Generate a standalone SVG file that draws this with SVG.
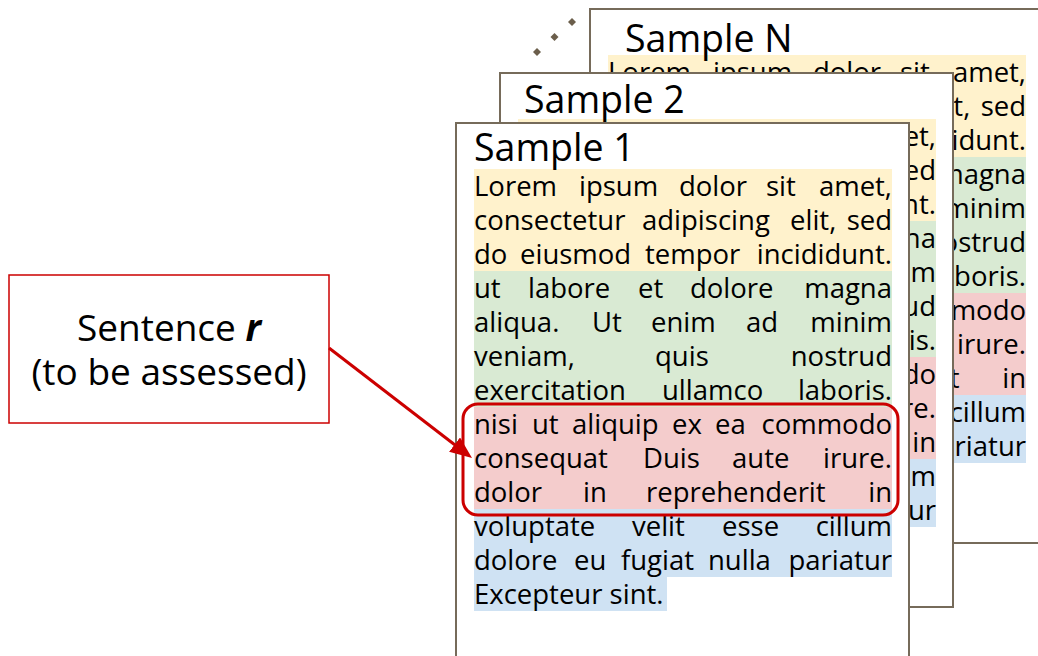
<svg xmlns="http://www.w3.org/2000/svg" xmlns:xlink="http://www.w3.org/1999/xlink" width="1038" height="656" viewBox="0 0 1038 656">
<style>
.frame{fill:#ffffff;stroke:#766b5a;stroke-width:2}
.title{font-family:"Open Sans","Noto Sans",sans-serif;font-size:37.5px;fill:#000}
.t{font-family:"Open Sans","Noto Sans",sans-serif;font-size:27.5px;fill:#000}
.e{text-anchor:end}
.hy{fill:#fff2cc}.hg{fill:#d9ead3}.hr{fill:#f4cccc}.hb{fill:#cfe2f3}
.lbl{font-family:"Open Sans","Noto Sans",sans-serif;font-size:37px;fill:#000;text-anchor:middle}
.red{stroke:#cc0000;fill:none}
.dot{fill:#6b5e4b}
</style>
<defs>
<marker id="ah" markerUnits="userSpaceOnUse" markerWidth="24" markerHeight="20" refX="10" refY="9" orient="auto">
<path d="M0,0 L22,9 L0,18 Z" fill="#cc0000"/>
</marker>
<g id="doc">
<rect class="hy" x="474" y="169" width="418" height="102"/>
<rect class="hg" x="474" y="271" width="418" height="136"/>
<rect class="hr" x="474" y="407" width="418" height="102"/>
<rect class="hb" x="474" y="509" width="418" height="68"/>
<rect class="hb" x="474" y="577" width="193" height="34"/>
<g class="t">
<text y="196"><tspan x="474">Lorem</tspan><tspan x="579">ipsum</tspan><tspan x="679">dolor</tspan><tspan x="766">sit</tspan></text>
<text class="e" x="892" y="196">amet,</text>
<text y="230"><tspan x="474">consectetur</tspan><tspan x="642">adipiscing</tspan><tspan x="790">elit,</tspan></text>
<text class="e" x="892" y="230">sed</text>
<text y="264"><tspan x="474">do</tspan><tspan x="520">eiusmod</tspan><tspan x="645">tempor</tspan></text>
<text class="e" x="892" y="264">incididunt.</text>
<text y="298"><tspan x="474">ut</tspan><tspan x="528">labore</tspan><tspan x="638">et</tspan><tspan x="690">dolore</tspan></text>
<text class="e" x="892" y="298">magna</text>
<text y="332"><tspan x="474">aliqua.</tspan><tspan x="592">Ut</tspan><tspan x="651">enim</tspan><tspan x="746">ad</tspan></text>
<text class="e" x="892" y="332">minim</text>
<text y="366"><tspan x="474">veniam,</tspan><tspan x="655">quis</tspan></text>
<text class="e" x="892" y="366">nostrud</text>
<text y="400"><tspan x="474">exercitation</tspan><tspan x="662">ullamco</tspan></text>
<text class="e" x="892" y="400">laboris.</text>
<text y="434"><tspan x="474">nisi</tspan><tspan x="532">ut</tspan><tspan x="572">aliquip</tspan><tspan x="672">ex</tspan><tspan x="715">ea</tspan></text>
<text class="e" x="892" y="434">commodo</text>
<text y="468"><tspan x="474">consequat</tspan><tspan x="643">Duis</tspan><tspan x="732">aute</tspan></text>
<text class="e" x="892" y="468">irure.</text>
<text y="502"><tspan x="474">dolor</tspan><tspan x="583">in</tspan><tspan x="646">reprehenderit</tspan></text>
<text class="e" x="892" y="502">in</text>
<text y="536"><tspan x="474">voluptate</tspan><tspan x="632">velit</tspan><tspan x="722">esse</tspan></text>
<text class="e" x="892" y="536">cillum</text>
<text y="570"><tspan x="474">dolore</tspan><tspan x="574">eu</tspan><tspan x="621">fugiat</tspan><tspan x="708">nulla</tspan></text>
<text class="e" x="892" y="570">pariatur</text>
<text x="474" y="604">Excepteur sint.</text>
</g>
</g>
</defs>

<g id="dots">
<path class="dot" d="M537,48 L541,52 L537,56 L533,52 Z"/>
<path class="dot" d="M554.5,33 L558.5,37 L554.5,41 L550.5,37 Z"/>
<path class="dot" d="M572,18 L576,22 L572,26 L568,22 Z"/>
</g>

<g id="sample-n">
<rect class="frame" x="590" y="9" width="453" height="534"/>
<use href="#doc" xlink:href="#doc" transform="translate(134,-114)"/>
<text class="title" x="625" y="52">Sample N</text>
</g>

<g id="sample-2">
<rect class="frame" x="500" y="73" width="453" height="534"/>
<use href="#doc" xlink:href="#doc" transform="translate(44,-50)"/>
<text class="title" x="524" y="113">Sample 2</text>
</g>

<g id="sample-1">
<rect class="frame" x="456" y="123" width="453" height="540"/>
<use href="#doc" xlink:href="#doc"/>
<text class="title" x="474" y="161">Sample 1</text>
</g>

<g id="selected-sentence">
<rect class="red" x="463" y="404" width="435" height="111" rx="15" ry="15" stroke-width="3"/>
</g>

<g id="sentence-r">
<rect x="9" y="275" width="320" height="148" fill="#ffffff" stroke="#cc0000" stroke-width="1.5"/>
<text class="lbl"><tspan x="169" y="341">Sentence <tspan font-weight="bold" font-style="italic">r</tspan></tspan><tspan x="169" y="385">(to be assessed)</tspan></text>
</g>

<g id="connectors">
<line x1="329" y1="348" x2="462.5" y2="450.7" stroke="#cc0000" stroke-width="3" marker-end="url(#ah)"/>
</g>
</svg>
